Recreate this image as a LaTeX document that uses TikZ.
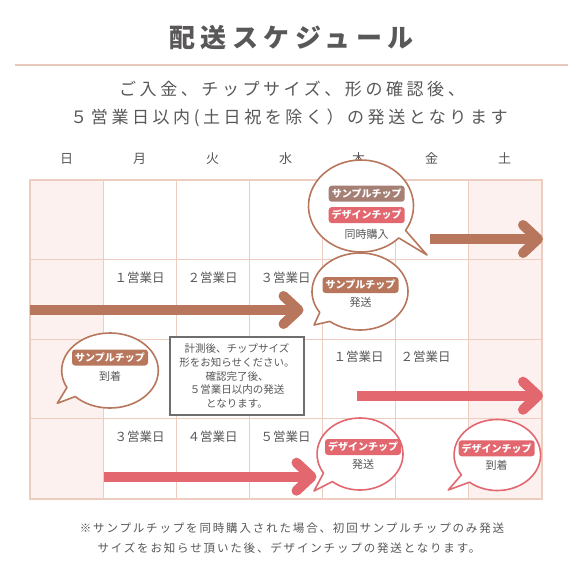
\documentclass[tikz,border=0pt]{standalone}
\usepackage{fontspec}
\setmainfont{Noto Sans CJK JP}
\usetikzlibrary{positioning, calc, arrows.meta}
\definecolor{inkgray}{HTML}{595757}
\definecolor{gridpink}{HTML}{EECDC1}
\definecolor{weekend}{HTML}{FCF1EF}
\definecolor{chipbrown}{HTML}{B8775C}
\definecolor{chipmauve}{HTML}{A67F74}
\definecolor{chippink}{HTML}{E2676F}
\definecolor{memogray}{HTML}{6E6E6E}
\definecolor{rulepink}{HTML}{E8C8BC}

\begin{document}
\begin{tikzpicture}[x=1pt, y=-1pt,
  cell/.style={draw=gridpink, line width=1pt, minimum width=73pt, minimum height=79.5pt, inner sep=0pt, fill=#1},
  cell/.default=white,
  heading/.style={text=inkgray, font=\fontsize{26}{26}\selectfont\bfseries\addfontfeatures{LetterSpace=21}},
  lead/.style={text=inkgray, font=\fontsize{17}{17}\selectfont\addfontfeatures{LetterSpace=21}},
  day/.style={text=inkgray, font=\fontsize{13}{13}\selectfont, inner sep=1pt},
  bizday/.style={text=inkgray, font=\fontsize{12.5}{13}\selectfont, inner sep=1pt},
  badge/.style={fill=#1, text=white, rounded corners=3pt, minimum width=76pt, minimum height=16pt, inner sep=1pt, font=\fontsize{10}{10}\selectfont\bfseries},
  note/.style={text=inkgray, font=\fontsize{11}{11}\selectfont, inner sep=1pt},
  memo/.style={draw=memogray, line width=1.2pt, fill=white, minimum width=134pt, minimum height=78pt, align=center, text=inkgray, font=\fontsize{10.5}{13.7}\selectfont, inner sep=2pt},
  foot/.style={text=inkgray, font=\fontsize{11.5}{12}\selectfont\addfontfeatures{LetterSpace=16}},
  bubble/.style={fill=white, line width=1.6pt, line join=round},
  bigarrow/.style={draw=#1, line width=10pt, -{Straight Barb[length=15pt, width=28pt, round]}}]

\newcommand*{\bubble}[8]{%
  \coordinate (#1) at (#2);
  \coordinate (#1tip) at (#7);
  \draw[bubble, draw=#8] ($(#1)+({#3pt*cos(#6)},{#4pt*sin(#6)})$) arc[start angle=#6, end angle={#5+360}, x radius=#3pt, y radius=#4pt] -- (#1tip) -- cycle;}

\fill[white] (0,0) rectangle (583,583);
\useasboundingbox (0,0) rectangle (583,583);

% TITLE

\node[heading] (title) at (291.5,38) {配送スケジュール};
\coordinate (ruleL) at (15,65);
\coordinate (ruleR) at (568,65);
\draw[rulepink, line width=1.2pt] (ruleL) -- (ruleR);
\node[lead] (lead1) at (292,89.3) {ご入金、チップサイズ、形の確認後、};
\node[lead] (lead2) at (289,118.3) {５営業日以内(土日祝を除く）の発送となります};

% GRID

\foreach \col/\shade in {1/weekend,2/white,3/white,4/white,5/white,6/white,7/weekend}
  \foreach \row in {1,...,4}
    \node[cell=\shade] (c\col\row) at ({66.5+73*(\col-1)}, {180+79.5*(\row-0.5)}) {};
\draw[gridpink, line width=2pt] (c11.north west) rectangle (c74.south east);

\foreach \col/\day in {1/日,2/月,3/火,4/水,5/木,6/金,7/土}
  \node[day, above=14pt of c\col1] (d\col) {\day};

\node[bizday, below=12pt of c22.north] (bd1) {１営業日};
\node[bizday, below=12pt of c32.north] (bd2) {２営業日};
\node[bizday, below=12pt of c42.north] (bd3) {３営業日};
\node[bizday, below=11pt of c53.north] (bd4) {１営業日};
\node[bizday, below=11pt of c63.north, xshift=-6pt] (bd5) {２営業日};
\node[bizday, below=12pt of c24.north] (bd6) {３営業日};
\node[bizday, below=12pt of c34.north] (bd7) {４営業日};
\node[bizday, below=12pt of c44.north] (bd8) {５営業日};

% ARROWS

\coordinate (brownA) at (430,239);
\coordinate (brownAtip) at (543,239);
\coordinate (brownB) at (30,310);
\coordinate (brownBtip) at (303.5,310);
\coordinate (pinkA) at (357,395.7);
\coordinate (pinkAtip) at (543,395.7);
\coordinate (pinkB) at (103.5,476.7);
\coordinate (pinkBtip) at (316.5,476.7);

\draw[bigarrow=chipbrown] (brownA) -- (brownAtip);
\draw[bigarrow=chipbrown] (brownB) -- (brownBtip);
\draw[bigarrow=chippink] (pinkA) -- (pinkAtip);
\draw[bigarrow=chippink] (pinkB) -- (pinkBtip);

% BUBBLES

\bubble{bA}{361,206}{52.5}{46}{-44}{-32}{427,255}{chipbrown}
\node[badge=chipmauve] (bAchip1) at ($(bA)+(5.7,-12.3)$) {サンプルチップ};
\node[badge=chippink, below=5pt of bAchip1] (bAchip2) {デザインチップ};
\node[note, below=4.5pt of bAchip2] (bAnote) {同時購入};

\bubble{bB}{360,291.5}{48}{38.5}{213}{231}{314,325}{chipbrown}
\node[badge=chipbrown] (bBchip) at ($(bB)+(0.5,-6.5)$) {サンプルチップ};
\node[note, below=3pt of bBchip] (bBnote) {発送};

\bubble{bC}{110,370.5}{48.3}{37.5}{207}{224}{57.3,403.3}{chipbrown}
\node[badge=chipbrown] (bCchip) at ($(bC)+(0,-13)$) {サンプルチップ};
\node[note, below=4pt of bCchip] (bCnote) {到着};

\bubble{bD}{360,454}{43}{36}{212}{230}{314,491}{chippink}
\node[badge=chippink] (bDchip) at ($(bD)+(3,-7)$) {デザインチップ};
\node[note, below=3pt of bDchip] (bDnote) {発送};

\bubble{bE}{497.3,455}{43.3}{35.5}{214}{230}{448.3,490}{chippink}
\node[badge=chippink] (bEchip) at ($(bE)+(-0.6,-6.7)$) {デザインチップ};
\node[note, below=3pt of bEchip] (bEnote) {到着};

% MEMO

\node[memo] (memo) at (237,376) {計測後、チップサイズ\\形をお知らせください。\\確認完了後、\\５営業日以内の発送\\となります。};

% FOOTNOTE

\node[foot] (foot1) at (292,528.3) {※サンプルチップを同時購入された場合、初回サンプルチップのみ発送};
\node[foot] (foot2) at (289,548.3) {サイズをお知らせ頂いた後、デザインチップの発送となります。};

\end{tikzpicture}
\end{document}
